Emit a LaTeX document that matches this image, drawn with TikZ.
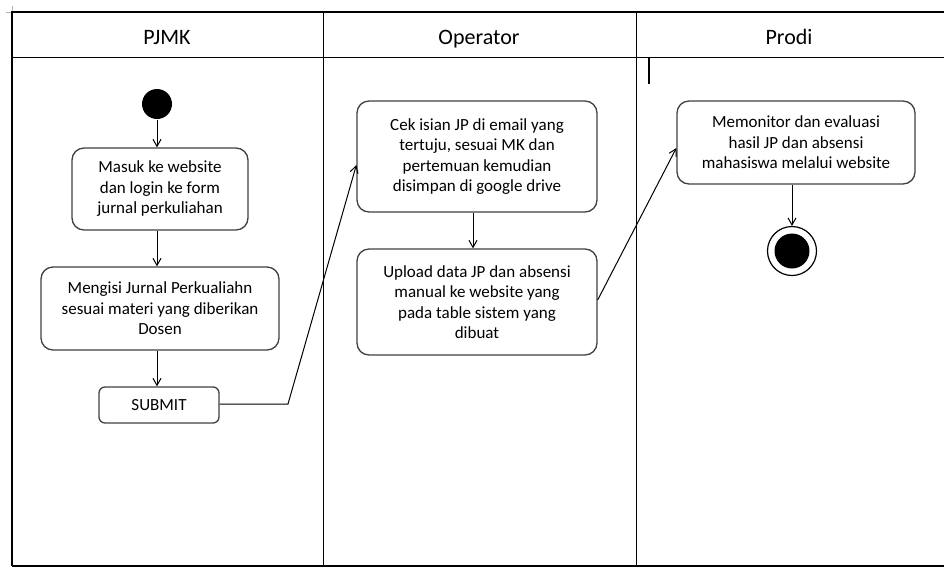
\documentclass[tikz,border=0pt]{standalone}
\usepackage{fontspec}
\setmainfont{Carlito}
\usetikzlibrary{arrows.meta}

\begin{document}
\begin{tikzpicture}[x=1pt,y=-1pt,line width=1pt,>={Straight Barb[length=7pt,width=8pt]},
  act/.style={draw=black!75,line width=1.3pt,rounded corners=12pt,align=center,
    inner sep=0pt,font=\fontsize{17}{20.5}\selectfont},
  lane/.style={font=\fontsize{22}{26}\selectfont,text height=15pt,text depth=4pt}]
  \useasboundingbox (0,0) rectangle (944,568);
  % swimlanes
  \draw[black!30] (6,12)--(12,12)--(12,6);
  \draw[line width=1.2pt] (12,566)--(12,12)--(944,12);
  \draw (12,57)--(944,57);
  \draw (323,12)--(323,566);
  \draw (636,12)--(636,566);
  \draw[line width=1.6pt] (12,566)--(944,566);
  \node[lane] (pjmk) at (167,38.5) {PJMK};
  \node[lane] (operator) at (479,38.5) {Operator};
  \node[lane] (prodi) at (789,38.5) {Prodi};
  \draw[line width=2.6pt] (649,58)--(649,84);
  % PJMK
  \node[circle,fill=black,minimum size=30pt,inner sep=0pt] (start) at (157,104) {};
  \node[act,minimum width=176pt,minimum height=82pt] (masuk) at (160,189)
    {Masuk ke website\\dan login ke form\\jurnal perkuliahan};
  \node[act,minimum width=238pt,minimum height=83pt] (isi) at (160,308.5)
    {Mengisi Jurnal Perkualiahn\\sesuai materi yang diberikan\\Dosen};
  \node[act,rounded corners=6pt,minimum width=120pt,minimum height=36pt] (submit) at (159,405)
    {SUBMIT};
  \draw[->] (start) -- (start |- masuk.north);
  \draw[->] (start |- masuk.south) -- (start |- isi.north);
  \draw[->] (start |- isi.south) -- (start |- submit.north);
  % Operator
  \node[act,minimum width=240pt,minimum height=111pt] (cek) at (477,156.5)
    {Cek isian JP di email yang\\tertuju, sesuai MK dan\\pertemuan kemudian\\disimpan di google drive};
  \node[act,minimum width=240pt,minimum height=106pt] (upload) at (477,302)
    {Upload data JP dan absensi\\manual ke website yang\\pada table sistem yang\\dibuat};
  \coordinate (bend) at (288,404);
  \draw[->] (submit.east |- bend) -- (bend) -- ([yshift=-8.5pt]cek.west);
  \draw[->] ([xshift=-4pt]cek.south) -- ([xshift=-4pt]upload.north);
  % Prodi
  \node[act,minimum width=238pt,minimum height=83pt] (monitor) at (796,142.5)
    {Memonitor dan evaluasi\\hasil JP dan absensi\\mahasiswa melalui website};
  \node[circle,draw,line width=1.2pt,minimum size=49pt,inner sep=0pt] (end) at (792,251) {};
  \node[circle,fill=black,minimum size=35pt,inner sep=0pt] (endin) at (end.center) {};
  \draw[->] ([yshift=2pt]upload.east) -- ([yshift=-5.5pt]monitor.west);
  \draw[->] (monitor.south -| end) -- (end.north);
\end{tikzpicture}
\end{document}
